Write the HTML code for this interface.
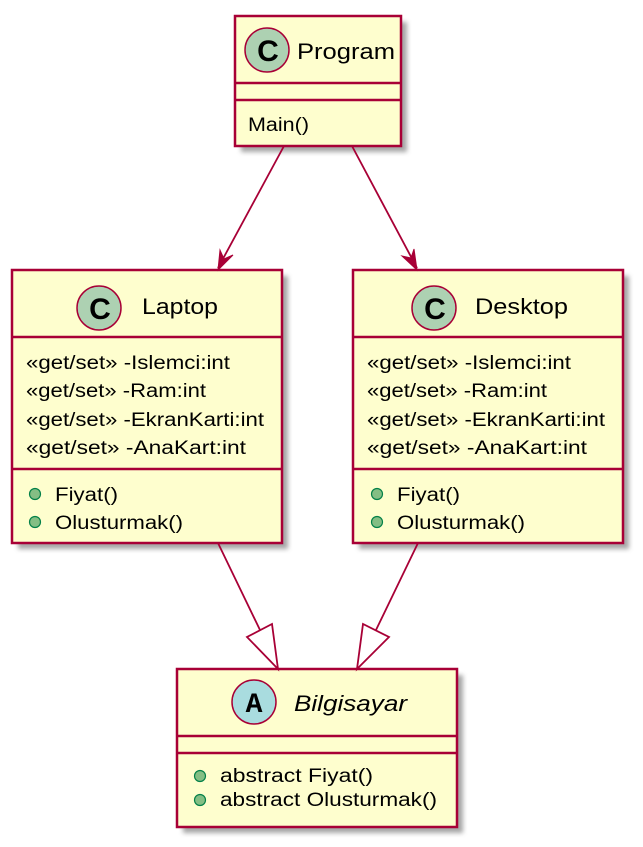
<!DOCTYPE html>
<html><head><meta charset="utf-8"><style>
html,body{margin:0;padding:0;background:#fff}
svg{display:block}
text{font-family:"Liberation Sans",Arial,sans-serif;fill:#000}
</style></head><body>
<svg width="643" height="847" viewBox="0 0 643 847" xmlns="http://www.w3.org/2000/svg">
<defs>
<filter id="sh" x="-10%" y="-10%" width="130%" height="130%">
<feGaussianBlur stdDeviation="2.5"/>
</filter>
</defs>
<g fill="#888" filter="url(#sh)" opacity="0.75">
<rect x="241" y="22" width="166" height="130"/>
<rect x="18" y="276" width="270" height="273"/>
<rect x="359" y="276" width="270" height="273"/>
<rect x="183" y="675" width="280" height="158"/>
</g>
<g stroke="#A80036" stroke-width="2.5" fill="#FEFECE">
<rect x="235" y="16" width="166" height="130"/>
<rect x="12" y="270" width="270" height="273"/>
<rect x="353" y="270" width="270" height="273"/>
<rect x="177" y="669" width="280" height="158"/>
</g>
<g stroke="#A80036" stroke-width="2.5">
<line x1="235" y1="83" x2="401" y2="83"/><line x1="235" y1="100" x2="401" y2="100"/>
<line x1="12" y1="337" x2="282" y2="337"/><line x1="12" y1="469" x2="282" y2="469"/>
<line x1="353" y1="337" x2="623" y2="337"/><line x1="353" y1="469" x2="623" y2="469"/>
<line x1="177" y1="736" x2="457" y2="736"/><line x1="177" y1="753" x2="457" y2="753"/>
</g>
<g stroke="#A80036" stroke-width="1.8" fill="none">
<line x1="284" y1="146" x2="218" y2="268"/>
<line x1="352" y1="146" x2="417" y2="268"/>
<line x1="218" y1="543" x2="260" y2="630"/>
<line x1="418" y1="543" x2="376" y2="630"/>
</g>
<path d="M218,270 L220,250 L224,259 L233,255 Z" fill="#A80036" stroke="#A80036" stroke-width="1"/>
<path d="M417,270 L402,256 L411,258 L414,249 Z" fill="#A80036" stroke="#A80036" stroke-width="1"/>
<path d="M278,669 L247,637 L272,624 Z" fill="#fff" stroke="#A80036" stroke-width="1.8"/>
<path d="M357,669 L363,624 L389,637 Z" fill="#fff" stroke="#A80036" stroke-width="1.8"/>
<g stroke="#A80036" stroke-width="1.5">
<circle cx="267" cy="50" r="22" fill="#ADD1B2"/>
<circle cx="99" cy="308" r="22" fill="#ADD1B2"/>
<circle cx="434" cy="308" r="22" fill="#ADD1B2"/>
<circle cx="254" cy="702" r="22" fill="#A9DCDF"/>
</g>
<g font-weight="bold" font-size="30" text-anchor="middle">
<text x="268" y="61">C</text>
<text x="100" y="319">C</text>
<text x="435" y="319">C</text>
<text x="254" y="712" style="font-family:'Liberation Mono',monospace;font-size:28px">A</text>
</g>
<g font-size="22">
<text x="297" y="59" textLength="98" lengthAdjust="spacingAndGlyphs">Program</text>
<text x="142" y="314" textLength="76" lengthAdjust="spacingAndGlyphs">Laptop</text>
<text x="475" y="314" textLength="93" lengthAdjust="spacingAndGlyphs">Desktop</text>
<text x="294" y="711" font-style="italic" textLength="113" lengthAdjust="spacingAndGlyphs">Bilgisayar</text>
</g>
<g font-size="19">
<text x="248" y="131" textLength="61" lengthAdjust="spacingAndGlyphs">Main()</text>
<text x="26" y="369" textLength="204" lengthAdjust="spacingAndGlyphs">«get/set» -Islemci:int</text>
<text x="26" y="397" textLength="180" lengthAdjust="spacingAndGlyphs">«get/set» -Ram:int</text>
<text x="26" y="426" textLength="238" lengthAdjust="spacingAndGlyphs">«get/set» -EkranKarti:int</text>
<text x="26" y="454" textLength="220" lengthAdjust="spacingAndGlyphs">«get/set» -AnaKart:int</text>
<text x="55" y="501" textLength="63" lengthAdjust="spacingAndGlyphs">Fiyat()</text>
<text x="55" y="529" textLength="128" lengthAdjust="spacingAndGlyphs">Olusturmak()</text>
<text x="367" y="369" textLength="204" lengthAdjust="spacingAndGlyphs">«get/set» -Islemci:int</text>
<text x="367" y="397" textLength="180" lengthAdjust="spacingAndGlyphs">«get/set» -Ram:int</text>
<text x="367" y="426" textLength="238" lengthAdjust="spacingAndGlyphs">«get/set» -EkranKarti:int</text>
<text x="367" y="454" textLength="220" lengthAdjust="spacingAndGlyphs">«get/set» -AnaKart:int</text>
<text x="397" y="501" textLength="63" lengthAdjust="spacingAndGlyphs">Fiyat()</text>
<text x="397" y="529" textLength="128" lengthAdjust="spacingAndGlyphs">Olusturmak()</text>
<text x="220" y="782" textLength="153" lengthAdjust="spacingAndGlyphs">abstract Fiyat()</text>
<text x="220" y="806" textLength="217" lengthAdjust="spacingAndGlyphs">abstract Olusturmak()</text>
</g>
<g fill="#84BE84" stroke="#038048" stroke-width="1.2">
<circle cx="35" cy="494" r="5.5"/><circle cx="35" cy="522" r="5.5"/>
<circle cx="377" cy="494" r="5.5"/><circle cx="377" cy="522" r="5.5"/>
<circle cx="200" cy="776" r="5.5"/><circle cx="200" cy="800" r="5.5"/>
</g>
</svg>
</body></html>
